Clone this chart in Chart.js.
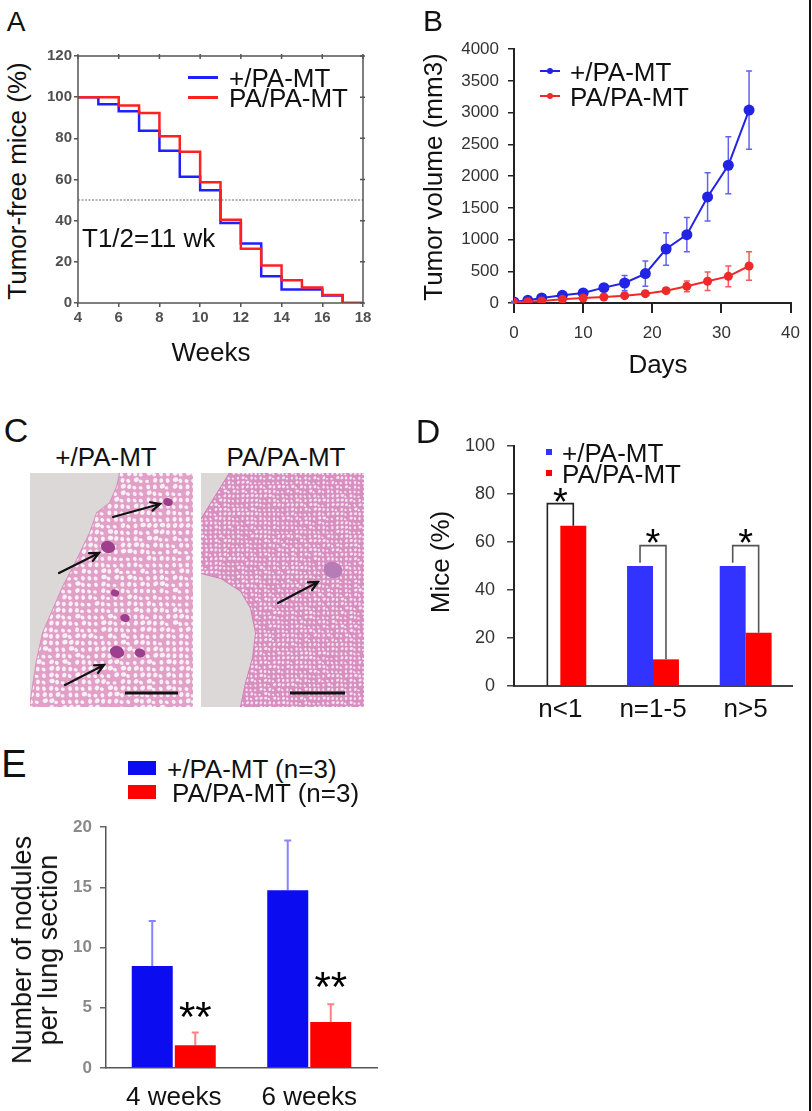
<!DOCTYPE html>
<html>
<head>
<meta charset="utf-8">
<title>Tumor-free mice, tumor volume and lung nodules</title>
<script src="https://cdn.jsdelivr.net/npm/chart.js@4.4.1/dist/chart.umd.min.js"></script>
<style>
  body { margin: 0; background: #fff; }
  #fig { position: relative; width: 812px; height: 1111px; overflow: hidden; font-family: "Liberation Sans", Arial, sans-serif; color: #111; }
  #fig > div, #fig > canvas { position: absolute; }
  .t { white-space: nowrap; line-height: 1; transform: translate(-50%, -50%); }
  .l { white-space: nowrap; line-height: 1; transform: translateY(-50%); }
  .r { white-space: nowrap; line-height: 1; transform: translate(-50%, -50%) rotate(-90deg); text-align: center; }
</style>
</head>
<body>
<div id="fig">
  <div style="left:40px;top:40px;width:340px;height:300px"><canvas id="chartA"></canvas></div>
  <div style="left:430px;top:30px;width:380px;height:320px"><canvas id="chartB"></canvas></div>
  <div style="left:430px;top:420px;width:370px;height:320px"><canvas id="chartD"></canvas></div>
  <div style="left:40px;top:800px;width:360px;height:311px"><canvas id="chartE"></canvas></div>

  <canvas id="secLeft" width="163" height="234" style="left:30px;top:473px"></canvas>
  <canvas id="secRight" width="163" height="234" style="left:201px;top:473px"></canvas>

  <div style="left:809px;top:0;width:2px;height:1111px;background:#111"></div>

  <!-- panel letters -->
  <div class="t" style="left:16px;top:22px;font-size:28px">A</div>
  <div class="t" style="left:433px;top:21px;font-size:30px">B</div>
  <div class="t" style="left:16px;top:430px;font-size:34px">C</div>
  <div class="t" style="left:428px;top:431px;font-size:34px">D</div>
  <div class="t" style="left:14px;top:764px;font-size:38px">E</div>

  <!-- A -->
  <div class="r" style="left:17px;top:181px;font-size:26px">Tumor-free mice (%)</div>
  <div class="t" style="left:211px;top:352px;font-size:26px">Weeks</div>
  <div style="left:188px;top:76px;width:30px;height:3px;background:#2020ff"></div>
  <div style="left:188px;top:96px;width:30px;height:3px;background:#ff2020"></div>
  <div class="l" style="left:229px;top:78px;font-size:26px">+/PA-MT</div>
  <div class="l" style="left:229px;top:98px;font-size:26px">PA/PA-MT</div>
  <div class="l" style="left:82px;top:238px;font-size:26px">T1/2=11 wk</div>

  <!-- B -->
  <div class="r" style="left:433px;top:177px;font-size:26px">Tumor volume (mm3)</div>
  <div class="t" style="left:658px;top:364px;font-size:26px">Days</div>
  <div style="left:540px;top:70px;width:20px;height:2px;background:#2323e6"></div>
  <div style="left:547px;top:68px;width:6px;height:6px;border-radius:3px;background:#2323e6"></div>
  <div style="left:540px;top:95px;width:20px;height:2px;background:#ee2a2a"></div>
  <div style="left:547px;top:93px;width:6px;height:6px;border-radius:3px;background:#ee2a2a"></div>
  <div class="l" style="left:570px;top:72px;font-size:26px">+/PA-MT</div>
  <div class="l" style="left:570px;top:97px;font-size:26px">PA/PA-MT</div>

  <!-- C -->
  <div class="t" style="left:106px;top:457px;font-size:26px">+/PA-MT</div>
  <div class="t" style="left:286px;top:457px;font-size:26px">PA/PA-MT</div>

  <!-- D -->
  <div class="r" style="left:440px;top:562px;font-size:26px">Mice (%)</div>
  <div style="left:546px;top:449px;width:6px;height:6px;background:#3333ff"></div>
  <div style="left:546px;top:470px;width:6px;height:6px;background:#ff0000"></div>
  <div class="l" style="left:562px;top:453px;font-size:26px">+/PA-MT</div>
  <div class="l" style="left:562px;top:474px;font-size:26px">PA/PA-MT</div>

  <!-- E -->
  <div class="r" style="left:35px;top:950px;font-size:27px;line-height:26px">Number of nodules<br>per lung section</div>
  <div style="left:128px;top:761px;width:28px;height:14px;background:#0c0cf0"></div>
  <div style="left:128px;top:785px;width:28px;height:14px;background:#ff0000"></div>
  <div class="l" style="left:167px;top:769px;font-size:26px">+/PA-MT (n=3)</div>
  <div class="l" style="left:172px;top:793px;font-size:26px">PA/PA-MT (n=3)</div>
</div>

<script>
// ---- A: tumor-free mice (%) by week, step points
const weeksBlue = [4, 5, 6, 7, 8, 9, 10, 11, 12, 13, 14, 16, 17, 18];
const freeBlue = [100, 96.5, 93.2, 83.7, 74, 61.3, 54.8, 38.9, 28.9, 13, 6.5, 3.6, 0, 0];
const weeksRed = [4, 6, 7, 8, 9, 10, 11, 12, 13, 14, 15, 16, 17, 18];
const freeRed = [100, 96, 92.3, 81, 73.5, 58.7, 40.5, 26.3, 18.2, 11, 7.5, 3.9, 0, 0];
const halfLine = 50;

// ---- B: tumor volume (mm3) by day
const days = [0, 2, 4, 7, 10, 13, 16, 19, 22, 25, 28, 31, 34];
const volBlue = [16, 42, 79, 121, 158, 242, 315, 463, 851, 1077, 1671, 2171, 3040];
const errBlue = [10, 15, 20, 30, 35, 45, 120, 200, 255, 270, 380, 450, 615];
const volRed = [10, 21, 32, 58, 79, 95, 116, 147, 194, 263, 342, 420, 583];
const errRed = [5, 8, 10, 12, 15, 20, 25, 30, 40, 85, 145, 165, 225];

// ---- D: mice (%) by nodule count
const groupsD = ['n<1', 'n=1-5', 'n>5'];
const miceBlue = [0, 50, 50];
const miceRed = [66.8, 11.1, 22.2];
const bracketTop = [76, 58.5, 58.5];
const bracketLeftEnd = [0, 51.4, 51.4];
const bracketRightEnd = [66.8, 11.1, 22.2];
const starD = [79.6, 62.5, 62.5];

// ---- E: nodules per lung section
const timesE = ['4 weeks', '6 weeks'];
const nodBlue = [8.46, 14.75];
const nodBlueErr = [3.74, 4.12];
const nodRed = [1.88, 3.82];
const nodRedErr = [1.06, 1.47];
const starE = [4.8, 7.3];

const FONT = '"Liberation Sans", Arial, sans-serif';
const plain = v => String(v);

function fit(size) {
    return function (s) {
        if (s.isHorizontal()) s.height = size; else s.width = size;
    };
}

function centerText(ctx, text, cx, cy, font) {
    ctx.font = font;
    ctx.fillStyle = '#000';
    ctx.textAlign = 'center';
    ctx.textBaseline = 'alphabetic';
    const m = ctx.measureText(text);
    ctx.fillText(text, cx, cy + (m.actualBoundingBoxAscent - m.actualBoundingBoxDescent) / 2);
}

const base = {
    responsive: true,
    maintainAspectRatio: false,
    animation: false,
    events: [],
    plugins: { legend: { display: false }, tooltip: { enabled: false } }
};

// box around panel A, inner ticks on top/right, dotted 50% line
const framePlugin = {
    id: 'frame',
    beforeDatasetsDraw(chart) {
        const { ctx, chartArea: a, scales: { y } } = chart;
        const py = y.getPixelForValue(halfLine);
        ctx.save();
        ctx.strokeStyle = '#9a9a9a';
        ctx.lineWidth = 1.5;
        ctx.setLineDash([2, 1.5]);
        ctx.beginPath();
        ctx.moveTo(a.left, py);
        ctx.lineTo(a.right, py);
        ctx.stroke();
        ctx.restore();
    },
    afterDraw(chart) {
        const { ctx, chartArea: a, scales: { x, y } } = chart;
        ctx.save();
        ctx.strokeStyle = '#555';
        ctx.lineWidth = 1.5;
        ctx.strokeRect(a.left, a.top, a.right - a.left, a.bottom - a.top);
        ctx.beginPath();
        x.ticks.forEach(t => {
            const px = x.getPixelForValue(t.value);
            ctx.moveTo(px, a.top - 2);
            ctx.lineTo(px, a.top + 3);
        });
        y.ticks.forEach(t => {
            const py = y.getPixelForValue(t.value);
            ctx.moveTo(a.right - 3, py);
            ctx.lineTo(a.right + 2, py);
        });
        ctx.stroke();
        ctx.restore();
    }
};

// error bars from dataset.errUp / dataset.errDown
const errorBars = {
    id: 'errorBars',
    beforeDatasetsDraw(chart) {
        const ctx = chart.ctx, ys = chart.scales.y;
        chart.data.datasets.forEach((ds, i) => {
            if (!ds.errUp) return;
            const meta = chart.getDatasetMeta(i);
            ctx.save();
            ctx.strokeStyle = ds.errColor;
            ctx.lineWidth = ds.errWidth;
            ctx.beginPath();
            meta.data.forEach((el, j) => {
                const raw = ds.data[j];
                const v = typeof raw === 'object' ? raw.y : raw;
                const top = ys.getPixelForValue(v + ds.errUp[j]);
                const bot = ds.errDown ? ys.getPixelForValue(v - ds.errDown[j]) : el.y;
                ctx.moveTo(el.x, bot);
                ctx.lineTo(el.x, top);
                ctx.moveTo(el.x - ds.cap, top);
                ctx.lineTo(el.x + ds.cap, top);
                if (ds.errDown) {
                    ctx.moveTo(el.x - ds.cap, bot);
                    ctx.lineTo(el.x + ds.cap, bot);
                }
            });
            ctx.stroke();
            ctx.restore();
        });
    }
};

const bracketPlugin = {
    id: 'brackets',
    afterDatasetsDraw(chart) {
        const ctx = chart.ctx, y = chart.scales.y;
        const mb = chart.getDatasetMeta(0), mr = chart.getDatasetMeta(1);
        ctx.save();
        groupsD.forEach((g, i) => {
            const x1 = mb.data[i].x, x2 = mr.data[i].x;
            const top = y.getPixelForValue(bracketTop[i]);
            ctx.strokeStyle = i === 0 ? '#222' : '#555';
            ctx.lineWidth = 1.6;
            ctx.beginPath();
            ctx.moveTo(x1, y.getPixelForValue(bracketLeftEnd[i]));
            ctx.lineTo(x1, top);
            ctx.lineTo(x2, top);
            ctx.lineTo(x2, y.getPixelForValue(bracketRightEnd[i]));
            ctx.stroke();
            centerText(ctx, '*', (x1 + x2) / 2, y.getPixelForValue(starD[i]), '38px ' + FONT);
        });
        ctx.restore();
    }
};

const starPluginE = {
    id: 'starsE',
    afterDatasetsDraw(chart) {
        const ctx = chart.ctx, y = chart.scales.y;
        const mr = chart.getDatasetMeta(1);
        ctx.save();
        timesE.forEach((t, i) => {
            centerText(ctx, '**', mr.data[i].x, y.getPixelForValue(starE[i]), '42px ' + FONT);
        });
        ctx.restore();
    }
};

// ---------- A
new Chart(document.getElementById('chartA'), {
    type: 'line',
    data: {
        datasets: [{
            data: weeksRed.map((w, i) => ({ x: w, y: freeRed[i] })),
            borderColor: '#ff2020',
            borderWidth: 2.5,
            stepped: 'before',
            pointRadius: 0,
            order: 0
        }, {
            data: weeksBlue.map((w, i) => ({ x: w, y: freeBlue[i] })),
            borderColor: '#2020ff',
            borderWidth: 2.5,
            stepped: 'before',
            pointRadius: 0,
            order: 1
        }]
    },
    options: {
        ...base,
        layout: { padding: { top: 16, right: 17, left: 0, bottom: 0 } },
        scales: {
            x: {
                type: 'linear', min: 4, max: 18, afterFit: fit(37),
                border: { display: false },
                grid: { drawOnChartArea: false, tickLength: 4, color: '#555', lineWidth: 1.5 },
                ticks: { stepSize: 2, padding: 2, maxRotation: 0, color: '#505050', callback: plain, font: { size: 15, weight: 'bold', family: FONT } }
            },
            y: {
                min: 0, max: 120, afterFit: fit(38),
                border: { display: false },
                grid: { drawOnChartArea: false, tickLength: 4, color: '#555', lineWidth: 1.5 },
                ticks: { stepSize: 20, padding: 2, color: '#505050', callback: plain, font: { size: 15, weight: 'bold', family: FONT } }
            }
        }
    },
    plugins: [framePlugin]
});

// ---------- B
new Chart(document.getElementById('chartB'), {
    type: 'line',
    data: {
        datasets: [{
            data: days.map((d, i) => ({ x: d, y: volRed[i] })),
            borderColor: '#ee2a2a', backgroundColor: '#ee2a2a', pointBackgroundColor: '#ee2a2a',
            borderWidth: 2, pointRadius: 4.5, pointBorderWidth: 0, tension: 0, order: 0,
            errUp: errRed, errDown: errRed, errColor: '#f05a5a', errWidth: 1.5, cap: 3
        }, {
            data: days.map((d, i) => ({ x: d, y: volBlue[i] })),
            borderColor: '#2323e6', backgroundColor: '#2323e6', pointBackgroundColor: '#2323e6',
            borderWidth: 2, pointRadius: 5.5, pointBorderWidth: 0, tension: 0, order: 1,
            errUp: errBlue, errDown: errBlue, errColor: '#6262ee', errWidth: 1.5, cap: 3
        }]
    },
    options: {
        ...base,
        layout: { padding: { top: 19, right: 14, left: 0, bottom: 0 } },
        scales: {
            x: {
                type: 'linear', min: 0, max: 40, afterFit: fit(47),
                border: { color: '#222', width: 2 },
                grid: { drawOnChartArea: false, tickLength: 10, color: '#222', lineWidth: 2 },
                ticks: { stepSize: 10, padding: 10, maxRotation: 0, color: '#333', callback: plain, font: { size: 17, family: FONT } }
            },
            y: {
                min: 0, max: 4000, afterFit: fit(84),
                border: { color: '#222', width: 2 },
                grid: { drawOnChartArea: false, tickLength: 6, color: '#222', lineWidth: 1.5 },
                ticks: { stepSize: 500, padding: 9, color: '#333', callback: plain, font: { size: 17, family: FONT } }
            }
        }
    },
    plugins: [errorBars]
});

// ---------- D
new Chart(document.getElementById('chartD'), {
    type: 'bar',
    data: {
        labels: groupsD,
        datasets: [
            { data: miceBlue, backgroundColor: '#3333ff', borderWidth: 0, categoryPercentage: 0.56, barPercentage: 1 },
            { data: miceRed, backgroundColor: '#ff0000', borderWidth: 0, categoryPercentage: 0.56, barPercentage: 1 }
        ]
    },
    options: {
        ...base,
        layout: { padding: { top: 26, right: 8, left: 0, bottom: 0 } },
        scales: {
            x: {
                afterFit: fit(54),
                border: { color: '#444', width: 2 },
                grid: { display: false, drawTicks: false },
                ticks: { padding: 8, maxRotation: 0, color: '#111', font: { size: 26, family: FONT } }
            },
            y: {
                min: 0, max: 100, afterFit: fit(84),
                border: { color: '#222', width: 2 },
                grid: { drawOnChartArea: false, tickLength: 7, color: '#444', lineWidth: 1.5 },
                ticks: { stepSize: 20, padding: 12, color: '#333', callback: plain, font: { size: 18, family: FONT } }
            }
        }
    },
    plugins: [bracketPlugin]
});

// ---------- E
new Chart(document.getElementById('chartE'), {
    type: 'bar',
    data: {
        labels: timesE,
        datasets: [
            { data: nodBlue, backgroundColor: '#0c0cf0', borderWidth: 0, categoryPercentage: 0.635, barPercentage: 0.953,
              errUp: nodBlueErr, errColor: '#8585ff', errWidth: 2, cap: 3.5 },
            { data: nodRed, backgroundColor: '#ff0000', borderWidth: 0, categoryPercentage: 0.635, barPercentage: 0.953,
              errUp: nodRedErr, errColor: '#ff8080', errWidth: 2, cap: 3.5 }
        ]
    },
    options: {
        ...base,
        layout: { padding: { top: 27, right: 23, left: 0, bottom: 0 } },
        scales: {
            x: {
                afterFit: fit(43),
                border: { color: '#555', width: 1.5 },
                grid: { display: false, drawTicks: false },
                ticks: { padding: 14, maxRotation: 0, color: '#111', font: { size: 26, family: FONT } }
            },
            y: {
                min: 0, max: 20, afterFit: fit(66),
                border: { color: '#555', width: 1.5 },
                grid: { drawOnChartArea: false, tickLength: 6, color: '#666', lineWidth: 1.5 },
                ticks: { stepSize: 5, padding: 8, color: '#8a8a8a', callback: plain, font: { size: 17, weight: 'bold', family: FONT } }
            }
        }
    },
    plugins: [errorBars, starPluginE]
});

// ---------- C: sketch of the two lung sections (photographs in the original)
function drawSection(id, o) {
    const cv = document.getElementById(id), g = cv.getContext('2d');
    const w = cv.width, h = cv.height;
    g.fillStyle = '#dcd8d8';
    g.fillRect(0, 0, w, h);

    g.save();
    g.beginPath();
    o.tissue.forEach(([x, y], k) => k ? g.lineTo(x, y) : g.moveTo(x, y));
    g.closePath();
    g.strokeStyle = o.edge;
    g.lineWidth = 2;
    g.stroke();
    g.clip();
    g.fillStyle = o.base;
    g.fillRect(0, 0, w, h);
    g.fillStyle = o.hole;
    const st = o.step;
    for (let y = 0; y < h + st; y += st) {
        for (let x = 0; x < w + st; x += st) {
            const s = Math.sin(x * 12.9898 + y * 78.233) * 43758.5453;
            const f = s - Math.floor(s);
            g.beginPath();
            g.ellipse(x + f * st * 0.4, y + (1 - f) * st * 0.3, st * (o.hr + 0.12 * f), st * (o.hr - 0.05 + 0.1 * f), f * 3, 0, Math.PI * 2);
            g.fill();
        }
    }
    o.blobs.forEach(([x, y, r]) => {
        g.fillStyle = o.blob;
        g.beginPath();
        g.ellipse(x, y, r * 1.2, r, 0.3, 0, Math.PI * 2);
        g.fill();
    });
    g.restore();

    g.strokeStyle = '#111';
    g.lineWidth = 2.2;
    g.lineCap = 'round';
    o.arrows.forEach(([x1, y1, x2, y2]) => {
        const a = Math.atan2(y2 - y1, x2 - x1), L = 10;
        g.beginPath();
        g.moveTo(x1, y1);
        g.lineTo(x2, y2);
        g.moveTo(x2 - L * Math.cos(a - 0.45), y2 - L * Math.sin(a - 0.45));
        g.lineTo(x2, y2);
        g.lineTo(x2 - L * Math.cos(a + 0.45), y2 - L * Math.sin(a + 0.45));
        g.stroke();
    });
    g.lineWidth = 3;
    g.lineCap = 'butt';
    g.beginPath();
    g.moveTo(o.bar[0], o.bar[2]);
    g.lineTo(o.bar[1], o.bar[2]);
    g.stroke();
}

drawSection('secLeft', {
    tissue: [[90, 0], [163, 0], [163, 234], [0, 234], [2, 220], [7, 187], [13, 160], [23, 137], [33, 114], [47, 87], [60, 60], [67, 40], [80, 30], [87, 14]],
    base: '#e2a0c8', hole: '#f7f0f4', edge: '#d890bb', step: 6.5, hr: 0.3,
    blob: '#9c3f8c', blobs: [[78, 74, 6], [85, 120, 3.5], [95, 145, 4], [87, 179, 6], [110, 180, 4.5], [138, 29, 4]],
    arrows: [[83, 44, 130, 31], [29, 100, 69, 80], [35, 212, 74, 192]],
    bar: [95, 148, 220]
});
drawSection('secRight', {
    tissue: [[29, 0], [163, 0], [163, 234], [40, 234], [45, 210], [52, 185], [55, 160], [50, 135], [40, 118], [20, 105], [0, 100], [0, 47]],
    base: '#d98ec0', hole: '#f3e5ef', edge: '#cf7fb3', step: 4.5, hr: 0.26,
    blob: '#b67cb8', blobs: [[132, 97, 8]],
    arrows: [[77, 130, 117, 109]],
    bar: [89, 144, 220]
});
</script>
</body>
</html>
